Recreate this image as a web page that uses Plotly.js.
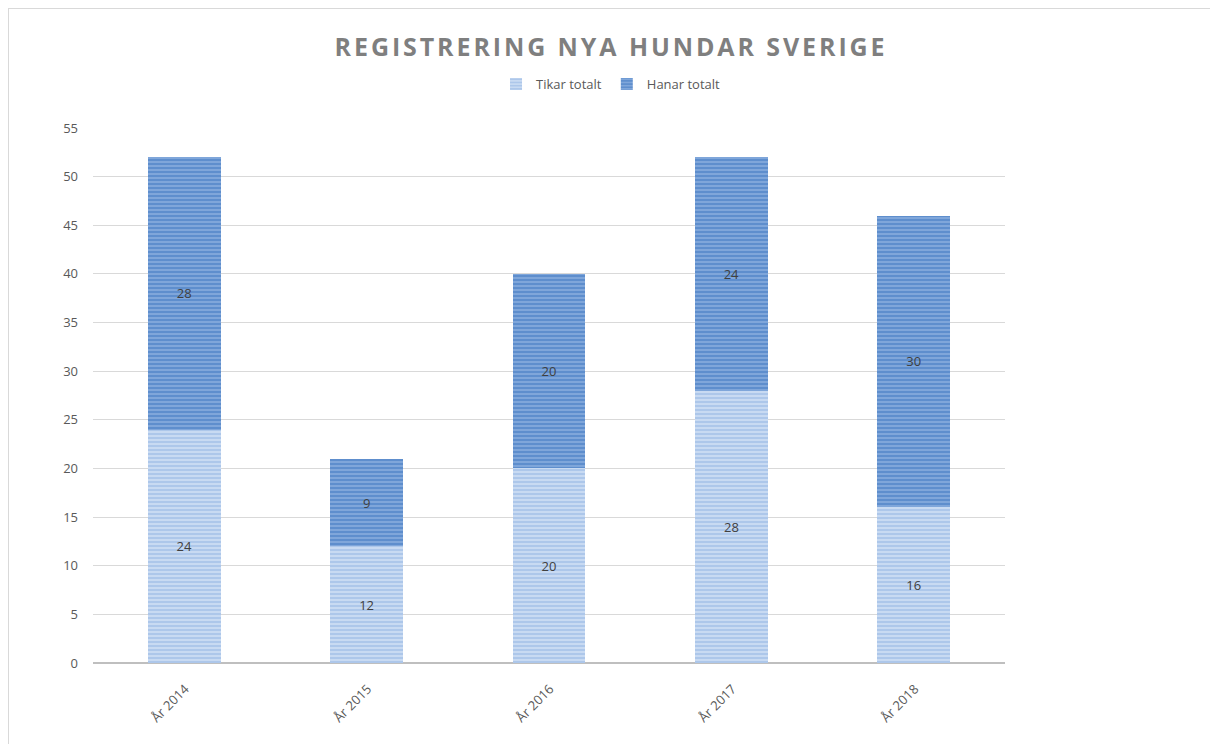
<!DOCTYPE html>
<html>
<head>
<meta charset="utf-8">
<script src="https://cdn.plot.ly/plotly-3.0.1.min.js"></script>
<style>
  html, body { margin: 0; padding: 0; background: #ffffff; overflow: hidden; }
  #frame { position: absolute; left: 8px; top: 8px; width: 1300px; height: 900px; border: 1px solid #d9d9d9; box-sizing: border-box; }
  #chart { position: absolute; left: 0; top: 0; width: 1210px; height: 744px; }
  .gtitle { letter-spacing: 2.9px; }
</style>
</head>
<body>
<div id="frame"></div>
<div id="chart"></div>
<script>
const categories = ["År 2014", "År 2015", "År 2016", "År 2017", "År 2018"];
const tikarTotalt = [24, 12, 20, 28, 16];
const hanarTotalt = [28, 9, 20, 24, 30];
const yTicks = [0, 5, 10, 15, 20, 25, 30, 35, 40, 45, 50, 55];

const labelFont = { family: "Open Sans, Liberation Sans, sans-serif", size: 13, color: "#404040" };

const traces = [
  {
    type: "bar",
    name: "Tikar totalt",
    x: categories,
    y: tikarTotalt,
    text: tikarTotalt.map(String),
    textposition: "inside",
    insidetextanchor: "middle",
    textangle: 0,
    textfont: labelFont,
    hoverinfo: "x+y+name",
    marker: {
      color: "#a9c4ea",
      line: { width: 0 },
      pattern: { shape: "-", bgcolor: "#c8daf2", fgcolor: "#92b3e2", size: 4, solidity: 0.5, fillmode: "overlay" }
    }
  },
  {
    type: "bar",
    name: "Hanar totalt",
    x: categories,
    y: hanarTotalt,
    text: hanarTotalt.map(String),
    textposition: "inside",
    insidetextanchor: "middle",
    textangle: 0,
    textfont: labelFont,
    hoverinfo: "x+y+name",
    marker: {
      color: "#6c98d2",
      line: { width: 0 },
      pattern: { shape: "-", bgcolor: "#5e8ecd", fgcolor: "#a7c3e9", size: 4, solidity: 0.45, fillmode: "overlay" }
    }
  }
];

const layout = {
  width: 1210,
  height: 744,
  barmode: "stack",
  bargap: 0.6,
  paper_bgcolor: "rgba(0,0,0,0)",
  plot_bgcolor: "rgba(0,0,0,0)",
  margin: { l: 93, r: 205, t: 128, b: 81 },
  font: { family: "Open Sans, Liberation Sans, sans-serif", color: "#595959", size: 13 },
  title: {
    text: "<b>REGISTRERING NYA HUNDAR SVERIGE</b>",
    x: 0.505,
    xanchor: "center",
    y: 0.936,
    yanchor: "middle",
    font: { family: "Open Sans, Liberation Sans, sans-serif", size: 25, color: "#7f7f7f" }
  },
  showlegend: true,
  legend: {
    orientation: "h",
    x: 0.568,
    xanchor: "center",
    y: 1.082,
    yanchor: "middle",
    font: { size: 13, color: "#595959" },
    traceorder: "normal",
    itemwidth: 30,
    itemsizing: "constant"
  },
  xaxis: {
    type: "category",
    tickangle: -45,
    showgrid: false,
    showline: false,
    zeroline: false,
    ticks: "",
    ticklabelshift: 1,
    ticklabelstandoff: 15,
    tickfont: { size: 13, color: "#595959" },
    fixedrange: true
  },
  yaxis: {
    range: [0, 55],
    tickvals: yTicks,
    ticktext: yTicks.map(String),
    showgrid: true,
    gridcolor: "#d9d9d9",
    gridwidth: 1,
    zeroline: true,
    zerolinecolor: "#bfbfbf",
    zerolinewidth: 2,
    showline: false,
    ticks: "",
    ticklabelstandoff: 14,
    tickfont: { size: 13, color: "#595959" },
    fixedrange: true
  }
};

Plotly.newPlot("chart", traces, layout, { displayModeBar: false, staticPlot: true });
</script>
</body>
</html>
